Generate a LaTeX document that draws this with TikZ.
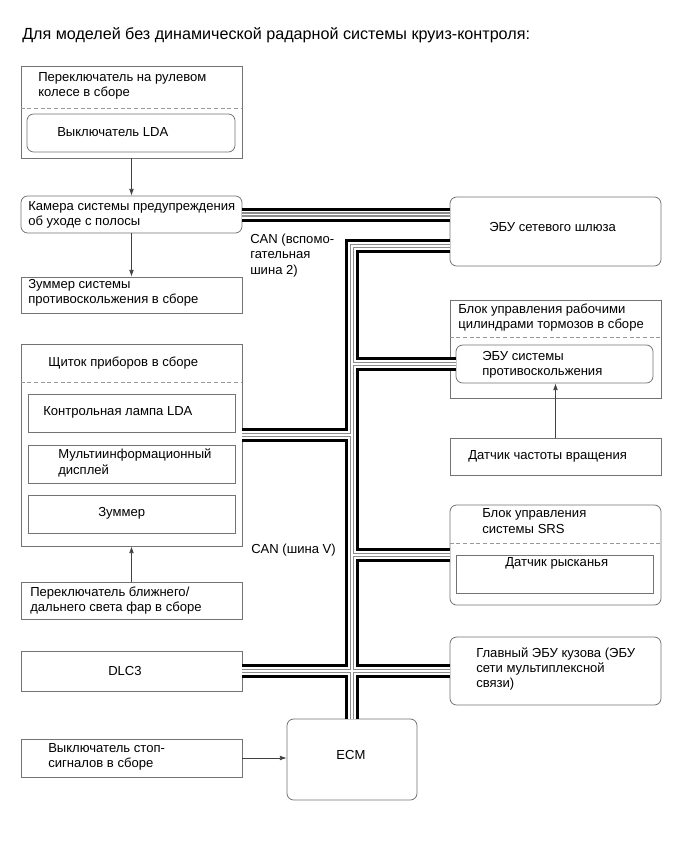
\documentclass[tikz,border=0pt]{standalone}
\usepackage{fontspec}
\setmainfont{Liberation Sans}
\usetikzlibrary{arrows.meta,fit}

\tikzset{
  box/.style={draw=black!55, line width=0.6pt, inner sep=0pt},
  rbox/.style={box, rounded corners=5pt},
  txt/.style={anchor=west, align=left, inner sep=0pt, font=\fontsize{9.8}{11.4}\selectfont},
  sep/.style={draw=black!40, dash pattern=on 3pt off 2pt, line width=0.5pt},
  sig/.style={draw=black!75, line width=0.5pt, -{Latex[length=5pt,width=3.5pt]}},
}

\begin{document}
\begin{tikzpicture}[x=0.75pt, y=-0.75pt]

  \fill[white] (0,0) rectangle (690,853);
  \useasboundingbox (0,0) rectangle (690,853);

  \node[txt, font=\fontsize{12.1}{14}\selectfont] (title) at (22,35)
    {Для моделей без динамической радарной системы круиз-контроля:};

  % left column
  \node[box, fit={(21,66) (242,158)}] (sw) {};
  \draw[sep] (sw.west |- 0,108) -- (sw.east |- 0,108);
  \node[rbox, fit={(27,114) (235,152)}] (swIn) {};
  \node[rbox, fit={(21,196) (242,233)}] (cam) {};
  \node[box, fit={(21,277) (242,313)}] (buz) {};
  \node[box, fit={(21,344) (242,546)}] (kl) {};
  \draw[sep] (kl.west |- 0,382) -- (kl.east |- 0,382);
  \node[box, fit={(28,394) (235,432)}] (lamp) {};
  \node[box, fit={(28,445) (235,483)}] (mfd) {};
  \node[box, fit={(28,495) (235,533)}] (klBuz) {};
  \node[box, fit={(21,582) (242,619)}] (hl) {};
  \node[box, fit={(21,651) (242,691)}] (dlc) {};
  \node[box, fit={(21,739) (242,777)}] (stop) {};
  \node[rbox, fit={(287,719) (417,800)}] (ecm) {};

  % right column
  \node[rbox, fit={(450,197) (661,266)}] (gw) {};
  \node[box, fit={(450,300) (661,398)}] (brk) {};
  \draw[sep] (brk.west |- 0,337) -- (brk.east |- 0,337);
  \node[rbox, fit={(456,345) (653,383)}] (abs) {};
  \node[box, fit={(450,438) (661,475)}] (spd) {};
  \node[rbox, fit={(450,505) (661,605)}] (srs) {};
  \draw[sep] (srs.west |- 0,543) -- (srs.east |- 0,543);
  \node[box, fit={(456,555) (653,593)}] (yaw) {};
  \node[rbox, fit={(450,637) (661,705)}] (body) {};

  % texts
  \node[txt] (swT) at (38,85.5) {Переключатель на рулевом\\колесе в сборе};
  \node[txt] (swInT) at (57,132) {Выключатель LDA};
  \node[txt] (camT) at (28,215) {Камера системы предупреждения\\об уходе с полосы};
  \node[txt] (buzT) at (28,293) {Зуммер системы\\противоскольжения в сборе};
  \node[txt] (klT) at (48,363) {Щиток приборов в сборе};
  \node[txt] (lampT) at (43,412) {Контрольная лампа LDA};
  \node[txt] (mfdT) at (58,463) {Мультиинформационный\\дисплей};
  \node[txt] (klBuzT) at (98,513) {Зуммер};
  \node[txt] (hlT) at (30,600.5) {Переключатель ближнего/\\дальнего света фар в сборе};
  \node[txt] (dlcT) at (108,671) {DLC3};
  \node[txt] (stopT) at (48,756.5) {Выключатель стоп-\\сигналов в сборе};
  \node[txt, anchor=center] (ecmT) at (351,755) {ECM};
  \node[txt] (gwT) at (489,227) {ЭБУ сетевого шлюза};
  \node[txt] (brkT) at (458,317.5) {Блок управления рабочими\\цилиндрами тормозов в сборе};
  \node[txt] (absT) at (482,365) {ЭБУ системы\\противоскольжения};
  \node[txt] (spdT) at (468,456) {Датчик частоты вращения};
  \node[txt] (srsT) at (482,521) {Блок управления\\системы SRS};
  \node[txt] (yawT) at (505,563) {Датчик рысканья};
  \node[txt] (bodyT) at (476,669) {Главный ЭБУ кузова (ЭБУ\\сети мультиплексной\\связи)};
  \node[txt] (can2T) at (250,255.5) {CAN (вспомо-\\гательная\\шина 2)};
  \node[txt] (canVT) at (251,550) {CAN (шина V)};

  % signal lines
  \draw[sig] (sw) -- (cam);
  \draw[sig] (cam) -- (buz);
  \draw[sig] (hl) -- (kl);
  \draw[sig] (stop.east) -- (stop.east -| ecm.west);
  \draw[sig] (spd.north) -- (spd.north |- abs.south);

  % CAN buses
  \coordinate (gwB) at (450,246);
  \coordinate (klTap) at (242,435);
  \foreach \w/\c in {10.5pt/black, 6pt/white, 3.6pt/black!45, 1.4pt/white}{
    \draw[line width=\w, \c] (cam.east) -- (cam.east -| gw.west);
    \draw[line width=\w, \c] (gwB) -| (ecm.north);
    \draw[line width=\w, \c] (abs.west) -- (abs.west -| ecm.north);
    \draw[line width=\w, \c] (klTap) -- (klTap -| ecm.north);
    \draw[line width=\w, \c] (srs.west) -- (srs.west -| ecm.north);
    \draw[line width=\w, \c] (dlc.east) -- (body.west);
  }

\end{tikzpicture}
\end{document}
